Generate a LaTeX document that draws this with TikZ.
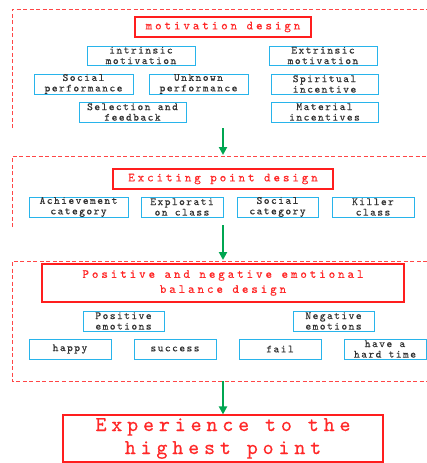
\documentclass[tikz,border=0pt]{standalone}
\usepackage{fontspec}
\usetikzlibrary{arrows.meta}
\newfontfamily\bodyfnt{lmmono10-regular}[Extension=.otf,LetterSpace=13,FakeBold=0.3]
\newfontfamily\titlefnt{lmmono10-regular}[Extension=.otf,LetterSpace=23,FakeBold=0.35]
\newfontfamily\bigfnt{lmmono10-regular}[Extension=.otf,LetterSpace=23,FakeBold=0.4]
\definecolor{tred}{RGB}{255,40,40}
\definecolor{boxred}{RGB}{255,30,30}
\definecolor{dred}{RGB}{255,70,70}
\definecolor{bblue}{RGB}{40,180,235}
\definecolor{txt}{RGB}{50,50,50}
\definecolor{agreen}{RGB}{0,166,81}
\begin{document}
\begin{tikzpicture}[x=1pt,y=-1pt,
 bbox/.style={draw=bblue, line width=0.9pt, inner sep=0pt, align=center, text=txt,
   font={\fontsize{11}{10.5}\selectfont\bodyfnt}},
 tbox/.style={draw=boxred, line width=1.15pt, inner sep=0pt, align=center, text=tred,
   font={\fontsize{12.5}{15}\selectfont\titlefnt}},
 hbox/.style={draw=boxred, line width=1.15pt, inner sep=0pt, align=center, text=tred,
   font={\fontsize{21}{23}\selectfont\bigfnt}},
 frame/.style={draw=dred, line width=0.8pt, dash pattern=on 4pt off 2.5pt},
 garrow/.style={draw=agreen, line width=2pt, -{Triangle[length=8pt,width=8pt]}}]
\useasboundingbox (0,0) rectangle (426,463);
% frames
\draw[frame] (12,128) -- (12,9) -- (427,9);
\draw[frame] (12,227) -- (12,156) -- (427,156);
\draw[frame] (427,261) -- (12,261) -- (12,381) -- (427,381);
% motivation design
\node[tbox, minimum width=176pt, minimum height=20pt] (mot) at (223,27) {motivation design};
\node[bbox, minimum width=108pt, minimum height=19pt] (im) at (141,55.5) {intrinsic\\motivation};
\node[bbox, minimum width=108pt, minimum height=19pt] (em) at (323,55.5) {Extrinsic\\motivation};
\node[bbox, minimum width=99pt, minimum height=20pt] (sp) at (83.5,84) {Social\\performance};
\node[bbox, minimum width=99pt, minimum height=20pt] (up) at (198.5,84) {Unknown\\performance};
\node[bbox, minimum width=107pt, minimum height=20pt] (si) at (324.5,84) {Spiritual\\incentive};
\node[bbox, minimum width=107pt, minimum height=20pt] (sf) at (132.5,112) {Selection and\\feedback};
\node[bbox, minimum width=107pt, minimum height=20pt] (mi) at (324.5,112) {Material\\incentives};
% exciting point design
\node[tbox, minimum width=220pt, minimum height=20pt] (ex) at (223,179) {Exciting point design};
\node[bbox, minimum width=99pt, minimum height=20pt] (ac) at (78.5,207) {Achievement\\category};
\node[bbox, minimum width=82pt, minimum height=20pt] (ec) at (182,207) {Explorati\\on class};
\node[bbox, minimum width=81pt, minimum height=20pt] (sc) at (277.5,207) {Social\\category};
\node[bbox, minimum width=82pt, minimum height=20pt] (kc) at (373,207) {Killer\\class};
% emotional balance
\node[tbox, minimum width=362pt, minimum height=38pt] (pn) at (223,283) {Positive and negative emotional\\balance design};
\node[bbox, minimum width=81pt, minimum height=20pt] (pe) at (123.5,321) {Positive\\emotions};
\node[bbox, minimum width=81pt, minimum height=20pt] (ne) at (333.5,321) {Negative\\emotions};
\node[bbox, minimum width=82pt, minimum height=20pt] (ha) at (70,349) {happy};
\node[bbox, minimum width=82pt, minimum height=20pt] (su) at (175,349) {success};
\node[bbox, minimum width=82pt, minimum height=20pt] (fa) at (280,349) {fail};
\node[bbox, minimum width=82pt, minimum height=20pt] (ht) at (385,349) {have a\\hard time};
% final
\node[hbox, minimum width=320pt, minimum height=47pt] (hp) at (223,438.5) {Experience to the\\highest point};
% arrows
\coordinate (a1s) at (223,128);
\coordinate (a1e) at (223,155);
\coordinate (a2s) at (223,225);
\coordinate (a2e) at (223,260);
\coordinate (a3s) at (223,381);
\draw[garrow] (a1s) -- (a1e);
\draw[garrow] (a2s) -- (a2e);
\draw[garrow] (a3s) -- (hp.north);
\end{tikzpicture}
\end{document}
